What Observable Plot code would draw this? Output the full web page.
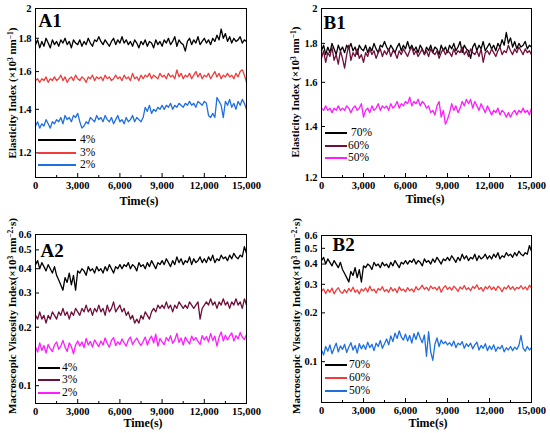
<!DOCTYPE html>
<html><head><meta charset="utf-8">
<script src="https://cdn.jsdelivr.net/npm/d3@7"></script>
<script src="https://cdn.jsdelivr.net/npm/@observablehq/plot@0.6"></script>
<style>
body{margin:0;background:#fff;}
#wrap{position:relative;width:550px;height:433px;font-family:"Liberation Serif","DejaVu Serif",serif;overflow:hidden;}
.pl{position:absolute;}
.pl svg{display:block;}
.ylab{position:absolute;font-weight:bold;font-size:11px;white-space:nowrap;line-height:1;transform:translate(-50%,-50%) rotate(-90deg);}
.xlab{position:absolute;font-weight:bold;font-size:12px;white-space:nowrap;line-height:1;transform:translate(-50%,-50%);}
.ylab sup{font-size:0.68em;vertical-align:baseline;position:relative;top:-0.45em;}
.lgl{position:absolute;height:0;}
.lgt{position:absolute;font-size:11.5px;line-height:1;transform:translateY(-50%);white-space:pre;}
</style></head>
<body><div id="wrap"></div>
<script>
const time = [0,150,300,450,600,750,900,1050,1200,1350,1500,1650,1800,1950,2100,2250,2400,2550,2700,2850,3000,3150,3300,3450,3600,3750,3900,4050,4200,4350,4500,4650,4800,4950,5100,5250,5400,5550,5700,5850,6000,6150,6300,6450,6600,6750,6900,7050,7200,7350,7500,7650,7800,7950,8100,8250,8400,8550,8700,8850,9000,9150,9300,9450,9600,9750,9900,10050,10200,10350,10500,10650,10800,10950,11100,11250,11400,11550,11700,11850,12000,12150,12300,12450,12600,12750,12900,13050,13200,13350,13500,13650,13800,13950,14100,14250,14400,14550,14700,14850,15000];
const xTicks = [0,3000,6000,9000,12000,15000];
const xMinor = [1500,4500,7500,10500,13500];

// Elasticity index: 4% (A1) = 70% (B1)
const elastHigh = [1.76,1.79,1.74,1.78,1.75,1.80,1.77,1.74,1.79,1.76,1.78,
1.75,1.79,1.77,1.80,1.76,1.78,1.74,1.79,1.77,1.76,
1.79,1.75,1.78,1.76,1.80,1.77,1.75,1.79,1.78,1.81,
1.78,1.76,1.79,1.77,1.75,1.78,1.80,1.76,1.79,1.77,
1.81,1.77,1.79,1.76,1.78,1.75,1.79,1.77,1.74,1.78,
1.76,1.79,1.75,1.78,1.77,1.74,1.79,1.76,1.78,1.75,
1.79,1.77,1.80,1.76,1.78,1.81,1.75,1.79,1.77,1.76,
1.72,1.78,1.80,1.76,1.79,1.77,1.81,1.76,1.78,1.80,
1.77,1.79,1.76,1.80,1.78,1.82,1.79,1.86,1.80,1.83,
1.78,1.81,1.77,1.80,1.78,1.79,1.81,1.77,1.79,1.78];
const elast3 = [1.55,1.56,1.54,1.56,1.55,1.57,1.54,1.56,1.55,1.57,1.55,
1.56,1.58,1.55,1.57,1.54,1.56,1.57,1.55,1.58,1.56,
1.55,1.57,1.56,1.54,1.57,1.56,1.58,1.55,1.57,1.56,
1.57,1.55,1.58,1.56,1.57,1.55,1.56,1.58,1.56,1.57,
1.55,1.58,1.56,1.57,1.55,1.59,1.56,1.57,1.55,1.58,
1.56,1.58,1.57,1.59,1.56,1.58,1.57,1.56,1.59,1.57,
1.58,1.56,1.59,1.57,1.58,1.56,1.61,1.57,1.59,1.56,
1.58,1.57,1.59,1.56,1.58,1.60,1.57,1.59,1.56,1.58,
1.57,1.59,1.56,1.58,1.60,1.57,1.59,1.56,1.58,1.57,
1.59,1.57,1.58,1.56,1.59,1.57,1.60,1.61,1.58,1.54];
const elast2 = [1.32,1.34,1.31,1.33,1.32,1.35,1.33,1.31,1.34,1.33,1.35,
1.34,1.36,1.33,1.37,1.35,1.36,1.34,1.37,1.36,1.38,
1.34,1.31,1.32,1.34,1.33,1.36,1.35,1.34,1.37,1.35,
1.36,1.34,1.37,1.35,1.34,1.36,1.33,1.35,1.37,1.34,
1.35,1.33,1.36,1.34,1.35,1.37,1.34,1.36,1.35,1.34,
1.36,1.41,1.39,1.42,1.38,1.40,1.39,1.41,1.40,1.42,
1.40,1.42,1.41,1.43,1.40,1.42,1.41,1.43,1.42,1.41,
1.43,1.42,1.44,1.42,1.43,1.41,1.44,1.43,1.42,1.44,
1.43,1.37,1.36,1.38,1.36,1.46,1.44,1.42,1.36,1.44,
1.42,1.45,1.41,1.43,1.40,1.44,1.42,1.45,1.43,1.40];
const elast60 = [1.72,1.76,1.70,1.75,1.73,1.78,1.71,1.74,1.69,1.76,1.72,
1.67,1.74,1.79,1.71,1.75,1.73,1.77,1.72,1.74,1.70,
1.75,1.73,1.77,1.74,1.76,1.72,1.75,1.77,1.73,1.76,
1.74,1.77,1.73,1.76,1.75,1.72,1.76,1.74,1.77,1.75,
1.73,1.76,1.78,1.74,1.76,1.73,1.75,1.77,1.74,1.76,
1.73,1.77,1.75,1.74,1.76,1.72,1.75,1.77,1.74,1.76,
1.75,1.73,1.77,1.74,1.76,1.75,1.78,1.74,1.76,1.73,
1.77,1.75,1.74,1.76,1.73,1.77,1.70,1.75,1.76,1.74,
1.77,1.75,1.73,1.76,1.78,1.74,1.76,1.75,1.79,1.76,
1.74,1.77,1.75,1.78,1.76,1.74,1.77,1.75,1.76,1.74];
const elast50 = [1.48,1.47,1.49,1.47,1.48,1.46,1.48,1.47,1.49,1.47,1.48,
1.47,1.49,1.48,1.46,1.48,1.49,1.47,1.48,1.50,1.44,
1.47,1.48,1.46,1.49,1.47,1.48,1.50,1.47,1.49,1.48,
1.49,1.47,1.50,1.48,1.49,1.51,1.48,1.50,1.49,1.51,
1.50,1.53,1.49,1.51,1.50,1.52,1.49,1.51,1.50,1.48,
1.49,1.46,1.47,1.45,1.49,1.51,1.44,1.47,1.41,1.43,
1.46,1.50,1.47,1.49,1.46,1.48,1.51,1.49,1.52,1.50,
1.52,1.48,1.51,1.49,1.47,1.50,1.48,1.46,1.49,1.47,
1.45,1.47,1.46,1.48,1.45,1.47,1.46,1.44,1.46,1.44,
1.46,1.47,1.45,1.47,1.46,1.48,1.46,1.47,1.45,1.48];

// Macroscopic viscosity index: 4% (A2) = 70% (B2)
const viscHigh = [0.42,0.44,0.40,0.43,0.41,0.39,0.42,0.40,0.38,0.41,0.37,
0.35,0.33,0.31,0.36,0.34,0.38,0.33,0.37,0.31,0.39,
0.38,0.40,0.39,0.37,0.41,0.39,0.40,0.38,0.41,0.39,
0.40,0.38,0.41,0.39,0.42,0.40,0.38,0.41,0.40,0.42,
0.40,0.42,0.41,0.43,0.40,0.42,0.41,0.39,0.43,0.41,
0.42,0.40,0.43,0.41,0.44,0.42,0.40,0.43,0.42,0.44,
0.42,0.45,0.43,0.41,0.44,0.42,0.46,0.43,0.45,0.42,
0.44,0.43,0.46,0.42,0.45,0.43,0.44,0.46,0.43,0.45,
0.43,0.46,0.44,0.47,0.43,0.45,0.44,0.47,0.45,0.46,
0.44,0.47,0.45,0.48,0.46,0.45,0.47,0.46,0.52,0.48];
const visc3 = [0.23,0.22,0.24,0.22,0.23,0.21,0.23,0.22,0.24,0.23,0.22,
0.24,0.23,0.25,0.23,0.24,0.22,0.24,0.23,0.25,0.24,
0.23,0.25,0.24,0.26,0.24,0.25,0.23,0.25,0.24,0.26,
0.24,0.25,0.23,0.26,0.24,0.25,0.27,0.24,0.25,0.26,
0.24,0.25,0.23,0.24,0.22,0.23,0.21,0.22,0.21,0.23,
0.22,0.24,0.23,0.22,0.24,0.25,0.24,0.26,0.25,0.26,
0.25,0.27,0.25,0.26,0.24,0.26,0.25,0.27,0.26,0.25,
0.26,0.25,0.27,0.26,0.25,0.26,0.27,0.22,0.25,0.26,
0.27,0.26,0.28,0.26,0.27,0.25,0.27,0.26,0.28,0.26,
0.27,0.25,0.27,0.26,0.28,0.26,0.27,0.25,0.28,0.26];
const visc2 = [0.158,0.149,0.166,0.152,0.161,0.147,0.163,0.155,0.150,0.162,0.168,
0.154,0.160,0.171,0.158,0.150,0.166,0.159,0.146,0.162,0.170,
0.160,0.168,0.157,0.175,0.162,0.169,0.158,0.172,0.165,0.159,
0.170,0.162,0.176,0.165,0.158,0.171,0.177,0.161,0.168,0.163,
0.174,0.166,0.160,0.172,0.178,0.163,0.170,0.176,0.167,0.161,
0.169,0.178,0.162,0.173,0.180,0.166,0.184,0.160,0.175,0.168,
0.163,0.177,0.170,0.181,0.165,0.172,0.186,0.167,0.176,0.162,
0.178,0.170,0.164,0.180,0.171,0.177,0.169,0.163,0.181,0.172,
0.179,0.168,0.186,0.171,0.180,0.160,0.178,0.189,0.170,0.182,
0.172,0.180,0.187,0.170,0.181,0.174,0.188,0.178,0.173,0.183];
const visc60 = [0.272,0.281,0.263,0.279,0.268,0.284,0.262,0.276,0.286,0.270,0.264,
0.278,0.266,0.283,0.271,0.288,0.268,0.277,0.262,0.281,0.273,
0.285,0.269,0.292,0.274,0.280,0.265,0.283,0.276,0.290,0.271,
0.279,0.268,0.287,0.273,0.282,0.266,0.289,0.275,0.280,0.270,
0.286,0.274,0.281,0.269,0.290,0.277,0.284,0.296,0.279,0.288,
0.275,0.293,0.282,0.287,0.276,0.291,0.268,0.285,0.294,0.279,
0.288,0.276,0.292,0.283,0.271,0.289,0.280,0.295,0.278,0.286,
0.274,0.291,0.283,0.298,0.279,0.287,0.272,0.290,0.281,0.293,
0.278,0.289,0.275,0.292,0.284,0.270,0.288,0.281,0.295,0.279,
0.290,0.276,0.287,0.282,0.294,0.280,0.289,0.277,0.296,0.285];
const visc50 = [0.118,0.110,0.124,0.116,0.127,0.112,0.121,0.130,0.115,0.125,0.119,
0.128,0.114,0.123,0.131,0.118,0.126,0.113,0.129,0.120,0.127,
0.119,0.132,0.122,0.128,0.117,0.130,0.124,0.135,0.121,0.129,
0.138,0.127,0.144,0.133,0.150,0.139,0.155,0.142,0.136,0.148,
0.134,0.145,0.130,0.149,0.137,0.152,0.140,0.131,0.146,0.108,
0.153,0.115,0.102,0.128,0.140,0.124,0.136,0.129,0.133,0.127,
0.131,0.125,0.134,0.122,0.130,0.127,0.133,0.121,0.129,0.124,
0.130,0.120,0.127,0.132,0.118,0.126,0.121,0.129,0.117,0.125,
0.119,0.127,0.116,0.123,0.120,0.126,0.115,0.122,0.118,0.124,
0.117,0.123,0.119,0.126,0.145,0.121,0.116,0.124,0.118,0.122];

const elastTicks = [1.2,1.4,1.6,1.8,2];
const viscTicks = [0.1,0.2,0.3,0.4,0.5,0.6];
const namesA = ["4%","3%","2%"];
const namesB = [" 70%","60%","50%"];
const namesB2 = ["70%","60%","50%"];

const BLACK="#000000", RED="#f03c3c", BLUE="#1f6fe0", MAROON="#6e0f3c", MAGENTA="#ff1cff";
const FONT = '"Liberation Serif","DejaVu Serif",serif';
const ELAB = 'Elasticity Index (×10<sup>3</sup> nm<sup>−1</sup>)';
const VLAB = 'Macroscopic Viscosity Index(×10<sup>3</sup> nm<sup>−2</sup>·s)';

const panels = [
  {name:"A1", left:0, top:0, w:275, h:216, ml:35, mr:29, mt:8, mb:39, dom:[1.1,2], yt:elastTicks,
   series:[elastHigh,elast3,elast2], colors:[BLACK,RED,BLUE], names:namesA, ndx:3, ndy:5,
   ylab:ELAB, ylx:12, yly:93, xlx:139, xly:201,
   leg:{x1:38,w:38,xt:80,ys:[140,152.5,164.5]}},
  {name:"B1", left:275, top:0, w:275, h:216, ml:46, mr:19, mt:8, mb:39, dom:[1.2,2], yt:elastTicks,
   series:[elastHigh,elast60,elast50], colors:[BLACK,MAROON,MAGENTA], names:namesB, ndx:2, ndy:7,
   ylab:ELAB, ylx:295, yly:92, xlx:425, xly:199,
   leg:{x1:325,w:22,xt:348,ys:[133,146,158]}},
  {name:"A2", left:0, top:216, w:275, h:217, ml:35, mr:29, mt:18, mb:30, dom:[0.081,0.6], yt:viscTicks,
   series:[viscHigh,visc3,visc2], colors:[BLACK,MAROON,MAGENTA], names:namesA, ndx:5, ndy:9,
   ylab:VLAB, ylx:12, yly:316, xlx:143, xly:423,
   leg:{x1:38,w:22,xt:62,ys:[367.5,380,392.5]}},
  {name:"B2", left:275, top:216, w:275, h:217, ml:46, mr:19, mt:19, mb:31, dom:[0.056,0.6], yt:viscTicks,
   series:[viscHigh,visc60,visc50], colors:[BLACK,RED,BLUE], names:namesB2, ndx:11, ndy:2,
   ylab:VLAB, ylx:296, yly:316, xlx:428, xly:423,
   leg:{x1:325,w:22,xt:349,ys:[365,378,391]}}
];

const wrap = document.getElementById("wrap");
const blank = () => "";

for (const p of panels) {
  const marks = [];
  p.series.forEach((s,k) => {
    marks.push(Plot.line(time.map((t,i)=>({t, v:s[i]})), {x:"t", y:"v", stroke:p.colors[k], strokeWidth:1.3}));
  });
  marks.push(Plot.frame({stroke:"#000", strokeWidth:1}));
  marks.push(Plot.axisX({ticks:xTicks, tickSize:0, tickPadding:4, tickFormat:d3.format(","), label:null, fontSize:10.5, fontWeight:"bold"}));
  marks.push(Plot.axisX({ticks:xTicks, tickSize:4, dy:-4, tickFormat:blank, label:null}));
  marks.push(Plot.axisX({ticks:xMinor, tickSize:2, dy:-2, tickFormat:blank, label:null}));
  marks.push(Plot.axisY({ticks:p.yt, tickSize:0, tickPadding:4, tickFormat:d=>String(d), label:null, fontSize:10.5, fontWeight:"bold"}));
  marks.push(Plot.axisY({ticks:p.yt, tickSize:4, dx:4, tickFormat:blank, label:null}));
  marks.push(Plot.text([p.name], {frameAnchor:"top-left", dx:p.ndx, dy:p.ndy, fontSize:19, fontWeight:"bold", fill:"#000", lineAnchor:"top"}));
  const svg = Plot.plot({
    width:p.w, height:p.h, marginLeft:p.ml, marginRight:p.mr, marginTop:p.mt, marginBottom:p.mb,
    x:{domain:[0,15000], label:null},
    y:{type:"log", domain:p.dom, label:null},
    style:{fontFamily:FONT, fontSize:"10.5px", color:"#000", background:"transparent"},
    marks
  });
  const div = document.createElement("div");
  div.className = "pl";
  div.style.left = p.left+"px"; div.style.top = p.top+"px";
  div.appendChild(svg);
  wrap.appendChild(div);

  const yl = document.createElement("div");
  yl.className = "ylab"; yl.innerHTML = p.ylab;
  yl.style.left = p.ylx+"px"; yl.style.top = p.yly+"px";
  wrap.appendChild(yl);

  const xl = document.createElement("div");
  xl.className = "xlab"; xl.textContent = "Time(s)";
  xl.style.left = p.xlx+"px"; xl.style.top = p.xly+"px";
  wrap.appendChild(xl);

  p.names.forEach((n,k) => {
    const ln = document.createElement("div");
    ln.className = "lgl";
    ln.style.left = p.leg.x1+"px"; ln.style.top = (p.leg.ys[k]-1)+"px";
    ln.style.width = p.leg.w+"px"; ln.style.borderTop = "2px solid "+p.colors[k];
    wrap.appendChild(ln);
    const tx = document.createElement("div");
    tx.className = "lgt"; tx.textContent = n;
    tx.style.left = p.leg.xt+"px"; tx.style.top = p.leg.ys[k]+"px";
    wrap.appendChild(tx);
  });
}
</script>
</body></html>
